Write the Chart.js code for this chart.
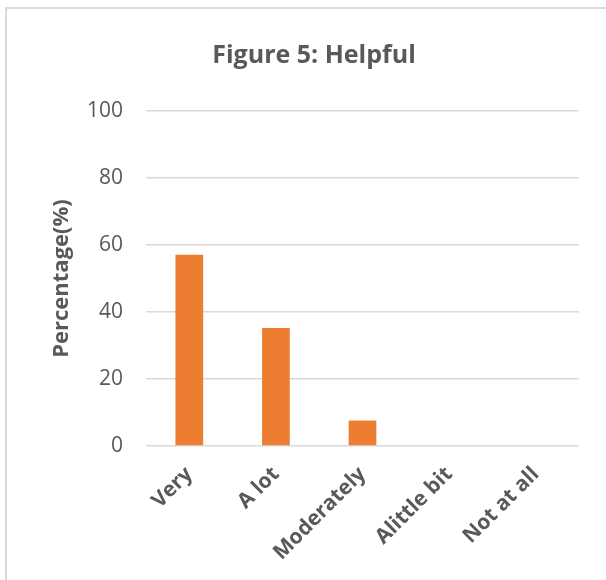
<!DOCTYPE html>
<html>
<head>
<meta charset="utf-8">
<script src="https://cdn.jsdelivr.net/npm/chart.js@4/dist/chart.umd.min.js"></script>
<style>
  html, body { margin: 0; padding: 0; background: #fff; overflow: hidden; }
  #frame {
    position: absolute; left: 5px; top: 7px; width: 800px; height: 800px;
    border-top: 2px solid #d9d9d9; border-left: 2px solid #d9d9d9;
  }
  #wrap { position: absolute; left: 0; top: 0; width: 606px; height: 580px; }
</style>
</head>
<body>
<div id="frame"></div>
<div id="wrap"><canvas id="helpfulChart"></canvas></div>
<script>
// data
const categories = ['Very', 'A lot', 'Moderately', 'Alittle bit', 'Not at all'];
const percentages = [57.1, 35.2, 7.6, 0, 0];
const yTicks = [0, 20, 40, 60, 80, 100];

const textColor = '#595959';
const font = 'Open Sans';

document.addEventListener('DOMContentLoaded', () => {
    const ctx = document.getElementById('helpfulChart');

    new Chart(ctx, {
        type: 'bar',
        data: {
            labels: categories,
            datasets: [{
                label: 'Helpful',
                data: percentages,
                backgroundColor: '#ed7d31',
                borderWidth: 0,
                barPercentage: 0.32,
                categoryPercentage: 1
            }]
        },
        options: {
            responsive: true,
            maintainAspectRatio: false,
            animation: false,
            layout: {
                padding: { left: 49, right: 27, top: 0, bottom: 0 }
            },
            scales: {
                x: {
                    grid: { display: false },
                    border: { display: false },
                    ticks: {
                        color: textColor,
                        font: { family: font, size: 21, weight: 'bold' },
                        minRotation: 45,
                        maxRotation: 45,
                        padding: 8
                    },
                    afterFit: (scale) => { scale.height = 580 - 446; }
                },
                y: {
                    min: 0,
                    max: 100,
                    afterBuildTicks: (scale) => {
                        scale.ticks = yTicks.map(v => ({ value: v }));
                    },
                    grid: { color: '#d9d9d9', lineWidth: 1.5, drawTicks: false },
                    border: { display: false },
                    ticks: {
                        color: textColor,
                        font: { family: font, size: 21 },
                        padding: 23
                    },
                    title: {
                        display: true,
                        text: 'Percentage(%)',
                        color: textColor,
                        font: { family: font, size: 22, weight: 'bold' },
                        padding: 0
                    },
                    afterFit: (scale) => { scale.width = 146 - 49; }
                }
            },
            plugins: {
                legend: { display: false },
                tooltip: { enabled: false },
                title: {
                    display: true,
                    text: 'Figure 5: Helpful',
                    color: textColor,
                    font: { family: font, size: 25, weight: 'bold' },
                    padding: { top: 41, bottom: 40 }
                }
            }
        }
    });
});
</script>
</body>
</html>
